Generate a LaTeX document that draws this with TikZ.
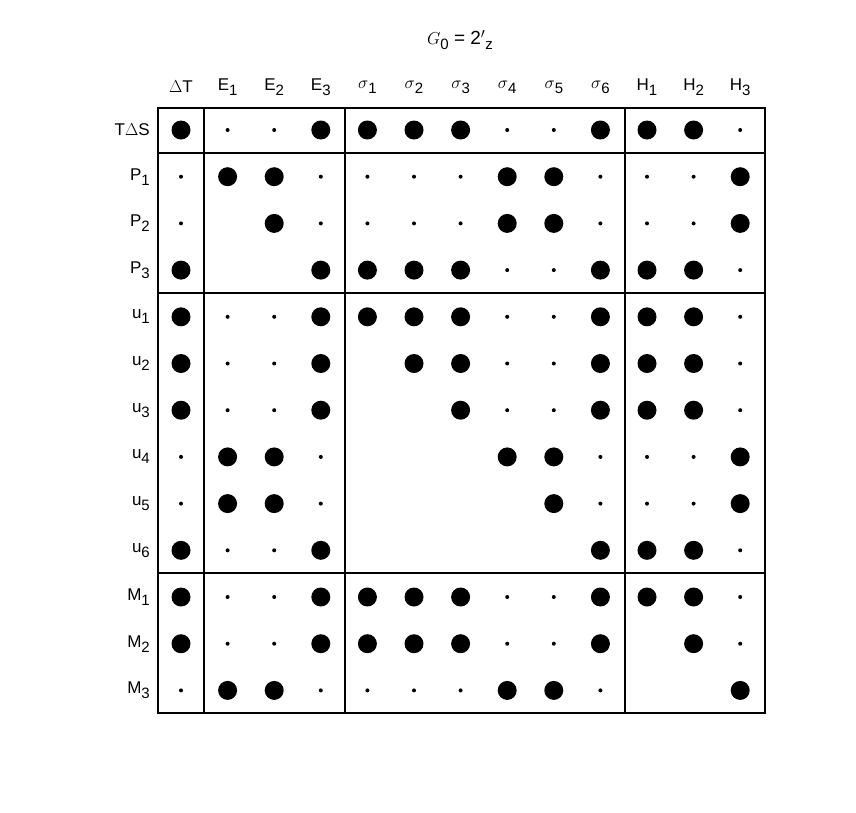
\documentclass[tikz,border=0pt]{standalone}
\usepackage{fontspec}
\setmainfont{Liberation Sans}
\newcommand{\lo}[1]{\raisebox{-0.55ex}{\fontsize{15}{15}\selectfont #1}}
\tikzset{
  lbl/.style={font=\fontsize{17}{20}\selectfont, inner sep=0pt},
  rlbl/.style={lbl, anchor=east},
  frame/.style={line width=2.6pt}
}
\begin{document}
\begin{tikzpicture}[x=1pt,y=-1pt]
  \useasboundingbox (0,0) rectangle (856,812);
  % title
  \node[lbl, font=\fontsize{19}{22}\selectfont] (title) at (460,40) {$G$\lo{0} = 2$'$\lo{z}};
  % column heads
  \foreach \t [count=\c] in {$\Delta$T,E\lo{1},E\lo{2},E\lo{3},$\sigma$\lo{1},$\sigma$\lo{2},$\sigma$\lo{3},$\sigma$\lo{4},$\sigma$\lo{5},$\sigma$\lo{6},H\lo{1},H\lo{2},H\lo{3}}
    \node[lbl] (col\c) at ({181+(\c-1)*46.6},87) {\t};
  % row heads
  \foreach \t [count=\r] in {T$\Delta$S,P\lo{1},P\lo{2},P\lo{3},u\lo{1},u\lo{2},u\lo{3},u\lo{4},u\lo{5},u\lo{6},M\lo{1},M\lo{2},M\lo{3}}
    \node[rlbl] (row\r) at (150,{130+(\r-1)*46.7}) {\t};
  % dots
  \foreach \line [count=\r] in {
    {2,1,1,2,2,2,2,1,1,2,2,2,1},
    {1,2,2,1,1,1,1,2,2,1,1,1,2},
    {1,0,2,1,1,1,1,2,2,1,1,1,2},
    {2,0,0,2,2,2,2,1,1,2,2,2,1},
    {2,1,1,2,2,2,2,1,1,2,2,2,1},
    {2,1,1,2,0,2,2,1,1,2,2,2,1},
    {2,1,1,2,0,0,2,1,1,2,2,2,1},
    {1,2,2,1,0,0,0,2,2,1,1,1,2},
    {1,2,2,1,0,0,0,0,2,1,1,1,2},
    {2,1,1,2,0,0,0,0,0,2,2,2,1},
    {2,1,1,2,2,2,2,1,1,2,2,2,1},
    {2,1,1,2,2,2,2,1,1,2,0,2,1},
    {1,2,2,1,1,1,1,2,2,1,0,0,2}}
    \foreach \v [count=\c] in \line {
      \ifnum\v=2 \fill ({181+(\c-1)*46.6},{130+(\r-1)*46.7}) circle (9.5); \fi
      \ifnum\v=1 \fill ({181+(\c-1)*46.6},{130+(\r-1)*46.7}) circle (2); \fi
    };
  % frame and separators
  \draw[frame] (158,108) rectangle (765,713);
  \foreach \x in {204,345,625} \draw[frame] (\x,108) -- (\x,713);
  \foreach \y in {153,293,573} \draw[frame] (158,\y) -- (765,\y);
\end{tikzpicture}
\end{document}
